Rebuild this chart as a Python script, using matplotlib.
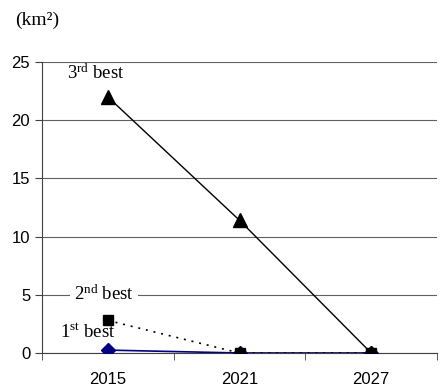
import matplotlib.pyplot as plt

years = ['2015', '2021', '2027']
best1 = [0.25, 0.0, 0.0]
best2 = [2.8, 0.0, 0.0]
best3 = [22.0, 11.4, 0.0]

plt.rcParams['font.family'] = ['Liberation Sans', 'DejaVu Sans']
plt.rcParams['mathtext.fontset'] = 'custom'
plt.rcParams['mathtext.rm'] = 'Liberation Serif'
plt.rcParams['mathtext.it'] = 'Liberation Serif:italic'
plt.rcParams['mathtext.bf'] = 'Liberation Serif:bold'

fig = plt.figure(figsize=(4.4, 3.87), dpi=100)
ax = fig.add_axes([42/440, 34/387, 395/440, 291/387])

x = range(len(years))
ax.plot(x, best1, color='#000080', lw=1.2, marker='D', ms=7, zorder=3)
ax.plot(x, best3, color='black', lw=1, marker='^', ms=10, zorder=4)
ax.plot(x, best2, color='black', lw=1.2, ls=(0, (1.2, 3.5)), marker='s', ms=7.5, zorder=4)

ax.set_xlim(-0.5, -0.5 + 395/136.5)
ax.set_ylim(0, 25)
ax.set_yticks([0, 5, 10, 15, 20, 25])
ax.set_xticks([0, 1, 2])
ax.set_xticklabels(years)
ax.set_xticks([-0.5, 0.5, 1.5, 2.5], minor=True)
ax.tick_params(axis='x', which='major', length=0, labelsize=12, pad=14)
ax.tick_params(axis='x', which='minor', length=5, color='#404040')
ax.tick_params(axis='y', length=5, labelsize=12, color='#404040')
ax.yaxis.grid(True, color='#606060', lw=0.8)
ax.set_axisbelow(True)
for s in ['top', 'right']:
    ax.spines[s].set_visible(False)
ax.spines['left'].set_color('#404040')
ax.spines['bottom'].set_color('#404040')

serif = ['Liberation Serif', 'DejaVu Serif']
ax.text(-0.09, 24.0, '3$^{\\mathrm{rd}}$ best', family=serif, fontsize=13.5, ha='center', va='center')
ax.text(-0.03, 5, '2$^{\\mathrm{nd}}$ best', family=serif, fontsize=13.5, ha='center', va='center',
        bbox=dict(facecolor='white', edgecolor='none', pad=3))
ax.text(-0.15, 1.8, '1$^{\\mathrm{st}}$ best', family=serif, fontsize=13.5, ha='center', va='center')
fig.text(15/440, 1 - 20/387, '(km²)', family=serif, fontsize=14, ha='left', va='center')

fig.savefig('out.png', dpi=100)
